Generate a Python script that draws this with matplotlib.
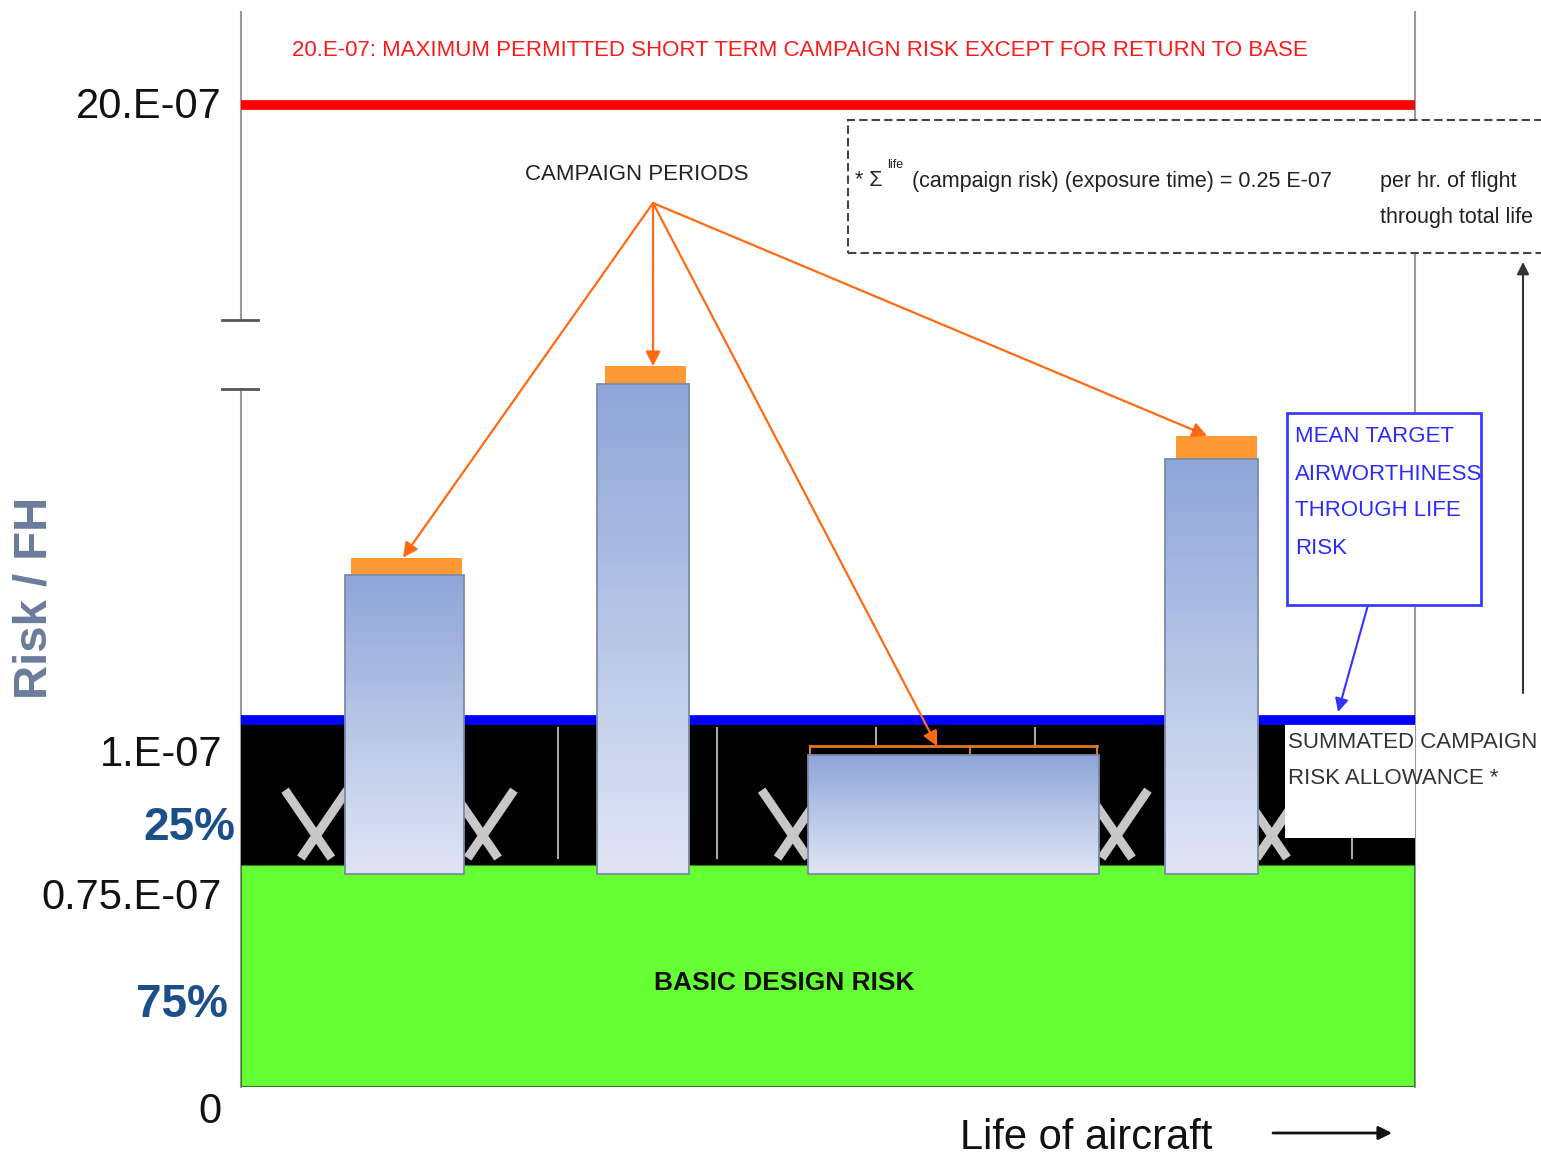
import numpy as np
import matplotlib.pyplot as plt
from matplotlib.patches import Rectangle
from matplotlib.colors import to_rgb

W, H = 1541, 1167

# risk levels (x E-07) and the height each one gets on the broken risk axis
risk_levels = [0, 0.75, 1.0, 1.7, 20, 28]
axis_height = [0, 222, 367, 773, 982, 1075]

design_risk = 0.75
allowance_risk = 1.0
max_risk = 20
break_low, break_high = 1.57, 1.69

# campaign periods along the life of the aircraft (0-100 %)
bar_left = [8.9, 30.3, 48.3, 78.7]
bar_right = [19.0, 38.2, 73.1, 86.6]
bar_top = [1.25, 1.58, 0.94, 1.45]
bar_base = 0.72
cap_left = [9.4, 31.0, 48.5, 79.6]
cap_right = [18.8, 37.9, 72.9, 86.5]
cap_top = [1.28, 1.61, 0.955, 1.49]
cap_style = ['fill', 'fill', 'bracket', 'fill']
arrow_x = [13.8, 35.1, 59.3, 82.3]

sep_full_x = [27.0, 40.55]
sep_short_x = [54.1, 67.6]
sep_strip_x = [94.6]
x_marks = [6.4, 20.6, 47.0, 74.6, 87.8]

narrow = ['Liberation Sans Narrow', 'Liberation Sans', 'DejaVu Sans']
plt.rcParams['font.family'] = narrow


def fwd(y):
    return np.interp(y, risk_levels, axis_height)


def inv(p):
    return np.interp(p, axis_height, risk_levels)


def fig_xy(px, py):
    return px / W, 1 - py / H


fig = plt.figure(figsize=(W / 100, H / 100), dpi=100)
ax = fig.add_axes([241 / W, (H - 1087) / H, (1415 - 241) / W, 1075 / H])
ax.set_yscale('function', functions=(fwd, inv))
ax.set_xlim(0, 100)
ax.set_ylim(0, 28)
ax.set_xticks([])
ax.set_yticks([])
ax.minorticks_off()
for s in ax.spines.values():
    s.set_visible(False)

# basic design risk block and campaign allowance band
ax.add_patch(Rectangle((0, 0), 100, design_risk, facecolor='#66ff33',
                       edgecolor='#2f7a1f', lw=1.5, zorder=1))
ax.add_patch(Rectangle((0, design_risk), 100, allowance_risk - design_risk,
                       facecolor='black', edgecolor='none', zorder=1))
ax.add_patch(Rectangle((88.9, 0.797), 11.1, allowance_risk - 0.797,
                       facecolor='white', edgecolor='none', zorder=2.2))

for x in sep_full_x:
    ax.plot([x, x], [0.762, 0.986], color='#a8a8a8', lw=1.5, zorder=2)
for x in sep_short_x:
    ax.plot([x, x], [0.957, 0.986], color='#a8a8a8', lw=1.5, zorder=2)
for x in sep_strip_x:
    ax.plot([x, x], [0.762, 0.795], color='#a8a8a8', lw=1.5, zorder=2)

for cx in x_marks:
    ax.plot([cx - 2.65, cx + 1.3], [0.879, 0.762], color='#c8c8c8', lw=6.5,
            solid_capstyle='butt', zorder=2)
    ax.plot([cx + 2.65, cx - 1.3], [0.879, 0.762], color='#c8c8c8', lw=6.5,
            solid_capstyle='butt', zorder=2)

# limit lines
ax.plot([0, 100], [allowance_risk, allowance_risk], color='#0000ff', lw=7,
        solid_capstyle='butt', zorder=2.5)
ax.plot([0, 100], [max_risk, max_risk], color='#ff0000', lw=7,
        solid_capstyle='butt', zorder=2.5)

# campaign bars with vertical shading
top_col = np.array(to_rgb('#8ea5d8'))
bot_col = np.array(to_rgb('#e0e5f4'))
n = 60
for i in range(len(bar_left)):
    edges = inv(np.linspace(fwd(bar_base), fwd(bar_top[i]), n + 1))
    for k in range(n):
        c = bot_col + (top_col - bot_col) * (k + 0.5) / n
        ax.add_patch(Rectangle((bar_left[i], edges[k]), bar_right[i] - bar_left[i],
                               edges[k + 1] - edges[k], facecolor=c,
                               edgecolor='none', zorder=3))
    ax.add_patch(Rectangle((bar_left[i], bar_base), bar_right[i] - bar_left[i],
                           bar_top[i] - bar_base, facecolor='none',
                           edgecolor='#7c8aa6', lw=1.3, zorder=3.2))
    if cap_style[i] == 'fill':
        ax.add_patch(Rectangle((cap_left[i], bar_top[i]), cap_right[i] - cap_left[i],
                               cap_top[i] - bar_top[i], facecolor='#ff9933',
                               edgecolor='none', zorder=3.1))
    else:
        ax.plot([cap_left[i], cap_right[i]], [cap_top[i], cap_top[i]],
                color='#e0781a', lw=2, zorder=3.1)
        mid = 62.1
        for x in [cap_left[i], mid, cap_right[i]]:
            ax.plot([x, x], [cap_top[i], bar_top[i]], color='#e0781a', lw=1.5,
                    zorder=3.1)

# broken risk axis and right border
ax.plot([0, 0], [0, break_low], color='#9a9a9a', lw=1.5, clip_on=False, zorder=0.5)
ax.plot([0, 0], [break_high, 28], color='#9a9a9a', lw=1.5, clip_on=False, zorder=0.5)
for b in [break_low, break_high]:
    ax.plot([-1.6, 1.45], [b, b], color='#555555', lw=2, clip_on=False, zorder=5)
ax.plot([100, 100], [0, 28], color='#9a9a9a', lw=1.5, clip_on=False, zorder=0.5)

# campaign period arrows
origin = fig_xy(653, 203)
for i in range(len(bar_left)):
    ax.annotate('', xy=(arrow_x[i], cap_top[i]), xytext=origin,
                textcoords='figure fraction',
                arrowprops=dict(arrowstyle='-|>', color='#ff6a13', lw=1.6,
                                mutation_scale=22, shrinkA=0, shrinkB=0),
                zorder=6)
fig.text(*fig_xy(637, 175), 'CAMPAIGN PERIODS', ha='center', va='center',
         fontsize=16, color='#222222')

# axis labels
lab = dict(ha='right', va='center', color='#111111', fontsize=30)
fig.text(*fig_xy(222, 107), '20.E-07', **lab)
fig.text(*fig_xy(222, 755), '1.E-07', **lab)
fig.text(*fig_xy(222, 898), '0.75.E-07', **lab)
fig.text(*fig_xy(222, 1112), '0', **lab)
pct = dict(ha='right', va='center', color='#1a4f8a', fontsize=33, fontweight='bold')
fig.text(*fig_xy(235, 828), '25%', **pct)
fig.text(*fig_xy(228, 1005), '75%', **pct)
fig.text(*fig_xy(35, 598), 'Risk / FH', rotation=90, ha='center', va='center',
         fontsize=34, fontweight='bold', color='#6b7b9b',
         family=['Liberation Sans', 'DejaVu Sans'])

fig.text(*fig_xy(292, 50),
         '20.E-07: MAXIMUM PERMITTED SHORT TERM CAMPAIGN RISK EXCEPT FOR RETURN TO BASE',
         ha='left', va='center', fontsize=16, color='#ff1a1a')

ax.text(46.3, 0.351, 'BASIC DESIGN RISK', ha='center', va='center',
        fontsize=19, fontweight='bold', color='#111111', zorder=5)

# exposure note
fig.patches.append(Rectangle(fig_xy(848, 253), (1560 - 848) / W, (253 - 120) / H,
                             transform=fig.transFigure, facecolor='white',
                             edgecolor='#444444', lw=1.5, ls=(0, (4, 2)),
                             zorder=5))
fig.text(*fig_xy(855, 181), '* \u03a3', ha='left', va='center', fontsize=15.5,
         color='#222222', zorder=6)
fig.text(*fig_xy(887, 165), 'life', ha='left', va='center', fontsize=9,
         color='#222222', zorder=6)
fig.text(*fig_xy(912, 181), '(campaign risk) (exposure time) = 0.25 E-07',
         ha='left', va='center', fontsize=15.5, color='#222222', zorder=6)
fig.text(*fig_xy(1380, 181), 'per hr. of flight', ha='left', va='center',
         fontsize=15.5, color='#222222', zorder=6)
fig.text(*fig_xy(1380, 217), 'through total life', ha='left', va='center',
         fontsize=15.5, color='#222222', zorder=6)

fig.patches.append(Rectangle(fig_xy(1287, 605), (1481 - 1287) / W, (605 - 413) / H,
                             transform=fig.transFigure, facecolor='white',
                             edgecolor='#3b3bff', lw=2, zorder=5))
for j, line in enumerate(['MEAN TARGET', 'AIRWORTHINESS', 'THROUGH LIFE', 'RISK']):
    fig.text(*fig_xy(1295, 437 + 37 * j), line, ha='left', va='center',
             fontsize=16, color='#2b2bff', zorder=6)
ax.annotate('', xy=fig_xy(1338, 712), xytext=fig_xy(1368, 605),
            xycoords='figure fraction', textcoords='figure fraction',
            arrowprops=dict(arrowstyle='-|>', color='#3333ff', lw=1.5,
                            mutation_scale=20, shrinkA=0, shrinkB=0))

fig.text(*fig_xy(1288, 742), 'SUMMATED CAMPAIGN', ha='left', va='center',
         fontsize=16, color='#333333')
fig.text(*fig_xy(1288, 779), 'RISK ALLOWANCE *', ha='left', va='center',
         fontsize=16, color='#333333')

ax.annotate('', xy=fig_xy(1523, 262), xytext=fig_xy(1523, 693),
            xycoords='figure fraction', textcoords='figure fraction',
            arrowprops=dict(arrowstyle='-|>', color='#333333', lw=1.5,
                            mutation_scale=18, shrinkA=0, shrinkB=0))

fig.text(*fig_xy(960, 1138), 'Life of aircraft', ha='left', va='center',
         fontsize=30, color='#111111')
ax.annotate('', xy=fig_xy(1392, 1133), xytext=fig_xy(1273, 1133),
            xycoords='figure fraction', textcoords='figure fraction',
            arrowprops=dict(arrowstyle='-|>', color='#111111', lw=2,
                            mutation_scale=20, shrinkA=0, shrinkB=0))

fig.savefig('out.png', dpi=100, facecolor='white')
